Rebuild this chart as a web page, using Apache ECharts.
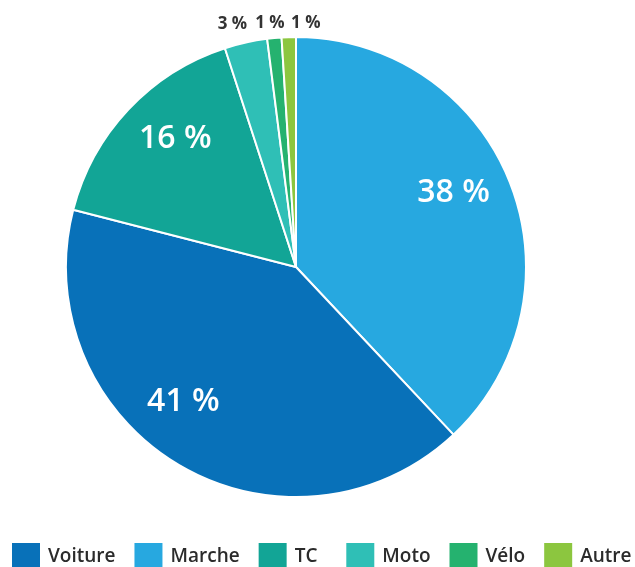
<!DOCTYPE html>
<html>
<head>
<meta charset="utf-8" />
<title>Parts modales</title>
<script type="text/javascript" src="https://cdn.jsdelivr.net/npm/echarts@6/dist/echarts.min.js"></script>
<style>
  html, body { margin: 0; padding: 0; background: #fff; }
  #pie { width: 635px; height: 567px; }
</style>
</head>
<body>
<div id="pie"></div>
<script type="text/javascript">
// modes, dans l'ordre des parts (sens horaire depuis midi)
var modes = ['Marche', 'Voiture', 'TC', 'Moto', 'Vélo', 'Autre'];
var parts = [38, 41, 16, 3, 1, 1];
var couleurs = ['#27a8e0', '#0871b9', '#12a596', '#2fbfb6', '#25b26f', '#8cc63f'];
// ordre de la légende
var legende = ['Voiture', 'Marche', 'TC', 'Moto', 'Vélo', 'Autre'];
// petit décalage des étiquettes, comme sur l'original
var decalages = [[-8, -9], [-22, -18], [9, -6], [8, -11], [16, -7], [37, -6]];

var chart = echarts.init(document.getElementById('pie'));

var dataMain = [], dataLabels = [];
for (var i = 0; i < modes.length; i++) {
    var petit = parts[i] < 5;
    dataMain.push({
        name: modes[i],
        value: parts[i],
        itemStyle: { color: couleurs[i] },
        label: petit ? { show: true, offset: decalages[i] } : { show: false }
    });
    dataLabels.push({
        name: modes[i],
        value: parts[i],
        label: { show: !petit, offset: decalages[i] }
    });
}

chart.setOption({
    animation: false,
    textStyle: { fontFamily: 'Open Sans' },
    legend: {
        data: legende,
        left: 10,
        top: 541,
        padding: 0,
        itemWidth: 30,
        itemHeight: 30,
        itemGap: 17,
        icon: 'rect',
        selectedMode: false,
        // TC a plus d'espace après lui dans l'original
        formatter: function (n) { return n === 'TC' ? 'TC  ' : n; },
        textStyle: { fontSize: 19, color: '#2b2b2b', fontWeight: 600, padding: [0, 0, 0, 2] }
    },
    series: [{
        type: 'pie',
        center: [296, 267],
        radius: 230,
        startAngle: 90,
        clockwise: true,
        silent: true,
        itemStyle: { borderColor: '#fff', borderWidth: 2 },
        label: {
            position: 'outside',
            formatter: '{c} %',
            color: '#333',
            fontSize: 17,
            fontWeight: 'bold',
            distance: 0
        },
        labelLine: { show: false, length: 8, length2: 0 },
        avoidLabelOverlap: false,
        data: dataMain
    }, {
        type: 'pie',
        center: [296, 267],
        radius: [120, 230],
        startAngle: 90,
        clockwise: true,
        silent: true,
        itemStyle: { color: 'rgba(0,0,0,0)' },
        label: {
            position: 'inside',
            formatter: '{c} %',
            color: '#fff',
            fontSize: 32,
            fontWeight: 600
        },
        labelLine: { show: false },
        data: dataLabels
    }]
});
</script>
</body>
</html>
